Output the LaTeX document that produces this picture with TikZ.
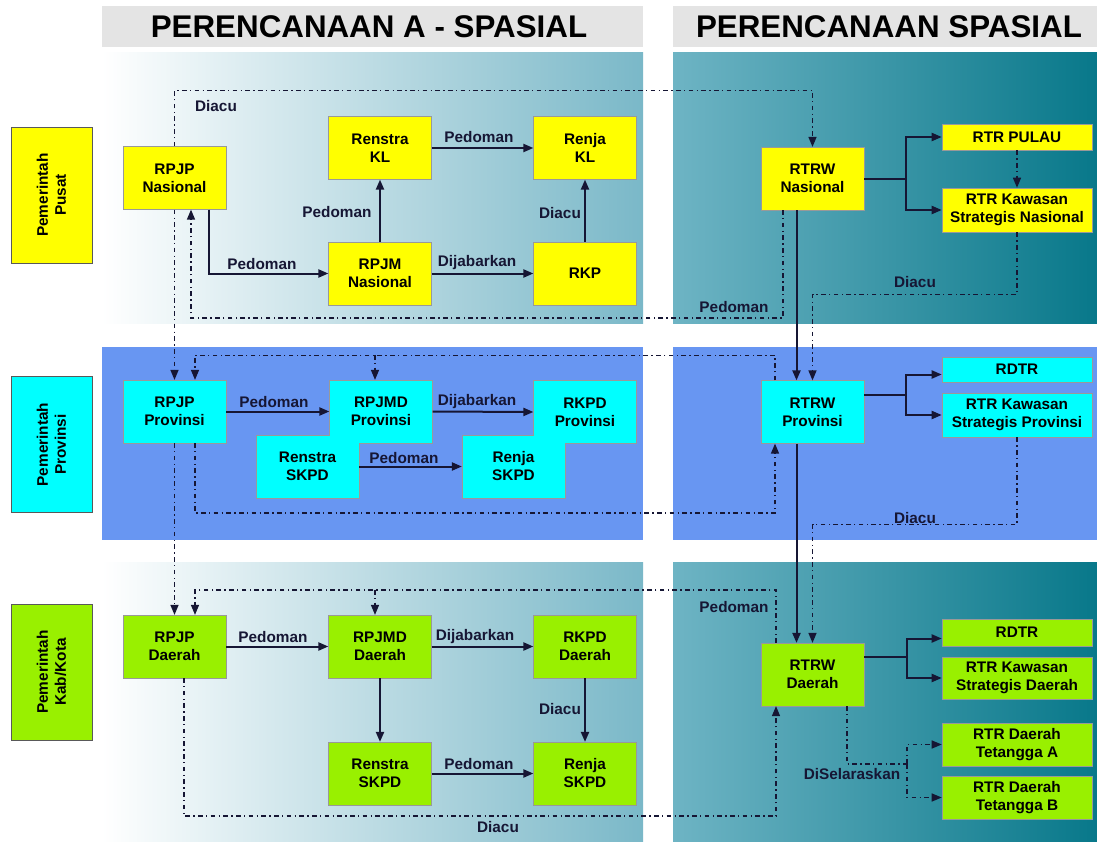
\documentclass[tikz,border=0pt]{standalone}
\usepackage{fontspec}
\setmainfont{Liberation Sans}
\usepackage{xcolor}
\usepackage{tikz}
\usetikzlibrary{positioning,calc,arrows.meta}

\definecolor{kuning}{RGB}{255,255,0}
\definecolor{sian}{RGB}{0,255,255}
\definecolor{hijau}{RGB}{153,240,0}
\definecolor{pita}{RGB}{104,150,242}
\definecolor{abu}{RGB}{228,228,228}
\definecolor{tealmuda}{RGB}{122,184,200}
\definecolor{toscamuda}{RGB}{110,180,196}
\definecolor{tosca}{RGB}{8,120,138}
\definecolor{garis}{RGB}{22,22,52}

\tikzset{
  kotak/.style={draw=black!40, line width=0.4pt, minimum width=77pt, minimum height=47pt,
    inner sep=1pt, align=center, font=\bfseries\fontsize{11.5}{13.5}\selectfont},
  lebar/.style={kotak, minimum width=112.5pt},
  sisi/.style={kotak, draw=black!65, rotate=90, minimum width=102pt, minimum height=61pt},
  ket/.style={font=\bfseries\fontsize{11.5}{13.5}\selectfont, text=garis, inner sep=1pt},
  judul/.style={font=\bfseries\fontsize{23.5}{28}\selectfont},
  tebal/.style={draw=garis, line width=1.5pt},
  panah/.style={tebal, -{Triangle[length=7.5pt,width=6pt]}},
  acuan/.style={draw=garis, line width=1pt, dash pattern=on 3.5pt off 2.5pt on 1pt off 2.5pt,
    -{Triangle[length=7.5pt,width=6pt]}},
}

\begin{document}
\begin{tikzpicture}[x=0.75pt,y=-0.75pt]
\useasboundingbox (0,0) rectangle (1097,842);
\fill[white] (0,0) rectangle (1097,842);

% judul dan latar
\fill[abu] (102,6) rectangle (643,47);
\fill[abu] (673,6) rectangle (1097,47);
\node[judul] (judula) at (369,27) {PERENCANAAN A - SPASIAL};
\node[judul] (judulb) at (889,27) {PERENCANAAN SPASIAL};

\shade[left color=white, right color=tealmuda] (102,53) rectangle (643,323);
\shade[left color=toscamuda, right color=tosca] (673,53) rectangle (1097,323);
\fill[pita] (102,347) rectangle (643,540);
\fill[pita] (673,347) rectangle (1097,540);
\shade[left color=white, right color=tealmuda] (102,562) rectangle (643,842);
\shade[left color=toscamuda, right color=tosca] (673,562) rectangle (1097,842);

\node[sisi, fill=kuning] (pusat) at (51.5,195) {Pemerintah\\Pusat};
\node[sisi, fill=sian] (prov) at (51.5,444.5) {Pemerintah\\Provinsi};
\node[sisi, fill=hijau] (kab) at (51.5,672) {Pemerintah\\Kab/Kota};

% pusat
\node[kotak, fill=kuning] (rpjpn) at (174.5,178) {RPJP\\Nasional};
\node[kotak, fill=kuning] (renstrakl) at (380,148) {Renstra\\KL};
\node[kotak, fill=kuning] (rpjmn) at (380,273.5) {RPJM\\Nasional};
\node[kotak, fill=kuning] (renjakl) at (585,148) {Renja\\KL};
\node[kotak, fill=kuning] (rkp) at (585,273.5) {RKP};
\node[kotak, fill=kuning] (rtrwn) at (812.5,178.5) {RTRW\\Nasional};
\node[lebar, fill=kuning, minimum height=19.5pt] (pulau) at (1017,137) {RTR PULAU};
\node[lebar, fill=kuning, minimum height=33pt] (ksn) at (1017,210) {RTR Kawasan\\Strategis Nasional};

% provinsi
\node[kotak, fill=sian] (rpjpp) at (174.5,411.5) {RPJP\\Provinsi};
\node[kotak, fill=sian] (rpjmdp) at (381,411.5) {RPJMD\\Provinsi};
\node[kotak, fill=sian] (rkpdp) at (585,412) {RKPD\\Provinsi};
\node[kotak, fill=sian] (renstrap) at (307.5,466.5) {Renstra\\SKPD};
\node[kotak, fill=sian] (renjap) at (513.5,466.5) {Renja\\SKPD};
\fill[sian] ($(rpjmdp.south west)+(0.5,-0.5)$) rectangle ($(renstrap.north east)+(0.5,-0.5)$);
\fill[sian] ($(rkpdp.south west)+(0.5,-0.5)$) rectangle ($(renjap.north east)+(0.5,-0.5)$);
\node[kotak, fill=sian] (rtrwp) at (812.5,412) {RTRW\\Provinsi};
\node[lebar, fill=sian, minimum height=19pt] (rdtrp) at (1017,369.5) {RDTR};
\node[lebar, fill=sian, minimum height=33pt] (ksp) at (1017,415) {RTR Kawasan\\Strategis Provinsi};

% kab/kota
\node[kotak, fill=hijau] (rpjpd) at (174.5,646.5) {RPJP\\Daerah};
\node[kotak, fill=hijau] (rpjmdd) at (380,646.5) {RPJMD\\Daerah};
\node[kotak, fill=hijau] (rkpdd) at (585,646.5) {RKPD\\Daerah};
\node[kotak, fill=hijau] (renstrad) at (380,773.5) {Renstra\\SKPD};
\node[kotak, fill=hijau] (renjad) at (585,773.5) {Renja\\SKPD};
\node[kotak, fill=hijau] (rtrwd) at (812.5,674.5) {RTRW\\Daerah};
\node[lebar, fill=hijau, minimum height=20pt] (rdtrd) at (1017,632.5) {RDTR};
\node[lebar, fill=hijau, minimum height=31.5pt] (ksd) at (1017,678) {RTR Kawasan\\Strategis Daerah};
\node[lebar, fill=hijau, minimum height=32pt] (teta) at (1017,744.5) {RTR Daerah\\Tetangga A};
\node[lebar, fill=hijau, minimum height=32pt] (tetb) at (1017,797.5) {RTR Daerah\\Tetangga B};

% hubungan pusat
\draw[acuan] (rpjpn.north) -- ++(0,-56) -| (rtrwn.north);
\draw[acuan] ($(rtrwn.south)+(-29.5,0)$) -- ++(0,108) -| ($(rpjpn.south)+(16.5,0)$);
\draw[panah] ($(rpjpn.south)+(34.5,0)$) |- (rpjmn.west);
\draw[panah] (rpjmn.north) -- (renstrakl.south);
\draw[panah] (renstrakl.east) -- (renjakl.west);
\draw[panah] (rpjmn.east) -- (rkp.west);
\draw[panah] (rkp.north) -- (renjakl.south);
\coordinate (cabn) at ($(rtrwn.east)+(41.5,0)$);
\draw[tebal] (rtrwn.east) -- (cabn);
\draw[panah] (cabn) |- (pulau.west);
\draw[panah] (cabn) |- (ksn.west);
\draw[acuan] (pulau.south) -- (ksn.north);
\draw[acuan] (ksn.south) -- ++(0,62) -| (rtrwp.north);
\draw[panah] ($(rtrwn.south)+(-16,0)$) -- ($(rtrwp.north)+(-16,0)$);
\draw[acuan] (rpjpn.south) -- (rpjpp.north);

% hubungan provinsi
\draw[acuan] ($(rtrwp.north)+(-37.5,0)$) -- ++(0,-25) -| ($(rpjpp.north)+(20.5,0)$);
\draw[acuan] ($(rpjmdp.north)+(-6,-25)$) -- ($(rpjmdp.north)+(-6,0)$);
\draw[acuan] ($(rpjpp.south)+(20.5,0)$) -- ++(0,70) -| ($(rtrwp.south)+(-37.5,0)$);
\draw[panah] (rpjpp.east) -- (rpjmdp.west);
\draw[panah] (rpjmdp.east) -- (rkpdp.west);
\draw[panah] (renstrap.east) -- (renjap.west);
\coordinate (cabp) at ($(rtrwp.east)+(41.5,-17)$);
\draw[tebal] ($(rtrwp.east)+(0,-17)$) -- (cabp);
\draw[panah] (cabp) |- ($(rdtrp.west)+(0,5)$);
\draw[panah] (cabp) |- (ksp.west);
\draw[acuan] (ksp.south) -- ++(0,87) -| (rtrwd.north);
\draw[panah] ($(rtrwp.south)+(-16,0)$) -- ($(rtrwd.north)+(-16,0)$);
\draw[acuan] (rpjpp.south) -- (rpjpd.north);

% hubungan kab/kota
\draw[acuan] ($(rtrwd.north)+(-36.5,0)$) -- ++(0,-53) -| ($(rpjpd.north)+(20.5,0)$);
\draw[acuan] ($(rpjmdd.north)+(-5,-25)$) -- ($(rpjmdd.north)+(-5,0)$);
\draw[acuan] ($(rpjpd.south)+(9.5,0)$) -- ++(0,138) -| ($(rtrwd.south)+(-36.5,0)$);
\draw[panah] (rpjpd.east) -- (rpjmdd.west);
\draw[panah] (rpjmdd.east) -- (rkpdd.west);
\draw[panah] (rpjmdd.south) -- (renstrad.north);
\draw[panah] (renstrad.east) -- (renjad.west);
\draw[panah] (rkpdd.south) -- (renjad.north);
\coordinate (cabd) at ($(rtrwd.east)+(42.5,-17.5)$);
\draw[tebal] ($(rtrwd.east)+(0,-17.5)$) -- (cabd);
\draw[panah] (cabd) |- ($(rdtrd.west)+(0,6)$);
\draw[panah] (cabd) |- (ksd.west);
\coordinate (cabs) at ($(rtrwd.south)+(94.5,58)$);
\draw[acuan, -] ($(rtrwd.south)+(34.5,0)$) |- (cabs);
\draw[acuan] (cabs) |- (teta.west);
\draw[acuan] (cabs) |- (tetb.west);

% keterangan
\node[ket] (k1) at (216,106) {Diacu};
\node[ket] (k2) at (262,264) {Pedoman};
\node[ket] (k3) at (337,212) {Pedoman};
\node[ket] (k4) at (479,137) {Pedoman};
\node[ket] (k5) at (477,263) {Dijabarkan};
\node[ket] (k6) at (560,213) {Diacu};
\node[ket] (k7) at (734,307) {Pedoman};
\node[ket] (k8) at (915,282) {Diacu};
\node[ket] (k9) at (274,402) {Pedoman};
\node[ket] (k10) at (477,402) {Dijabarkan};
\node[ket] (k11) at (404,458) {Pedoman};
\node[ket] (k12) at (915,518) {Diacu};
\node[ket] (k13) at (273,637) {Pedoman};
\node[ket] (k14) at (475,637) {Dijabarkan};
\node[ket] (k15) at (479,764) {Pedoman};
\node[ket] (k16) at (560,709) {Diacu};
\node[ket] (k17) at (734,607) {Pedoman};
\node[ket] (k18) at (498,827) {Diacu};
\node[ket] (k19) at (852,774) {DiSelaraskan};
\end{tikzpicture}
\end{document}
